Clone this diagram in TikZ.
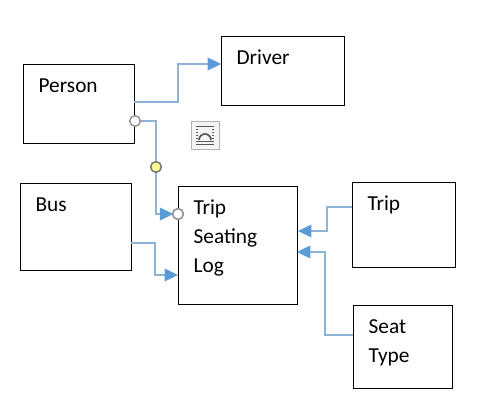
\documentclass[tikz,border=0pt]{standalone}
\usepackage{fontspec}
\setmainfont{Carlito}
\usetikzlibrary{arrows.meta, positioning}
\definecolor{linkblue}{HTML}{8DB4D8}
\definecolor{tipblue}{HTML}{5B9BD5}
\tikzset{
  entity/.style={draw, line width=0.8pt, inner sep=0pt, anchor=north west},
  entitytext/.style={font=\fontsize{16}{22}\selectfont, align=left, anchor=north west, inner sep=0pt},
  link/.style={-{Triangle[length=10pt,width=9.5pt,color=tipblue]}, line width=0.95pt, color=linkblue},
  handle/.style={circle, draw=gray!85, line width=1.1pt, fill=white, minimum size=8pt, inner sep=0pt},
  midhandle/.style={handle, fill=yellow!45!white, draw=gray!90!black}
}
\begin{document}
\begin{tikzpicture}[x=0.75pt, y=-0.75pt]
  \useasboundingbox (0,0) rectangle (490,407);
  % Person
  \node[entity, minimum width=83.25pt, minimum height=59.25pt] (person) at (23,64) {};
  \node[entitytext, below right=11pt and 11.5pt of person.north west] (personlabel) {Person};
  % Driver
  \node[entity, minimum width=92.25pt, minimum height=51.75pt] (driver) at (221,36) {};
  \node[entitytext, below right=10.5pt and 11.5pt of driver.north west] (driverlabel) {Driver};
  % Bus
  \node[entity, minimum width=83.25pt, minimum height=65.25pt] (bus) at (20,183) {};
  \node[entitytext, below right=11pt and 11.5pt of bus.north west] (buslabel) {Bus};
  % Trip Seating Log
  \node[entity, minimum width=89.25pt, minimum height=88.5pt] (log) at (178,186) {};
  \node[entitytext, below right=10pt and 11.5pt of log.north west] (loglabel) {Trip\\Seating\\Log};
  % Trip
  \node[entity, minimum width=77.25pt, minimum height=63.75pt] (trip) at (352,182) {};
  \node[entitytext, below right=10.5pt and 11.5pt of trip.north west] (triplabel) {Trip};
  % Seat Type
  \node[entity, minimum width=74.25pt, minimum height=62.25pt] (seat) at (353,305) {};
  \node[entitytext, below right=10.5pt and 11.5pt of seat.north west] (seatlabel) {Seat\\Type};

  % connector ends
  \coordinate (personout) at (134,102);
  \coordinate (busout) at (131,243);
  \coordinate (tripout) at (352,207);
  \coordinate (seatout) at (353,335);
  \coordinate (login) at (178,275);
  \coordinate (logtrip) at (298,231);
  \coordinate (logseat) at (297,252);
  \coordinate (driverin) at (221,64);

  \draw[link] (personout) -- (178,102) -- (178,64) -- (driverin);
  \draw[link] (busout) -- (155,243) -- (155,275) -- (login);
  \draw[link] (tripout) -- (327,207) -- (327,231) -- (logtrip);
  \draw[link] (seatout) -- (325,335) -- (325,252) -- (logseat);

  % selected connector
  \node[handle] (start) at (135,121) {};
  \node[handle] (end) at (178,214) {};
  \node[midhandle] (middle) at (156,167) {};
  \draw[link, shorten >=-1pt] (start) -- (156,121) -- (middle) -- (156,214) -- (end);
  \node[handle] at (end) {};

  % layout icon
  \node[draw=gray!60, fill=gray!8, minimum size=21pt, inner sep=0pt] (icon) at (205,135) {};
  \foreach \ypos in {-9,-6,-3,0,3,6,9}
    \draw[gray!70!black, line width=0.4pt] (196,135+\ypos) -- (214,135+\ypos);
  \fill[gray!8] (198,141) rectangle (212,129);
  \draw[gray!70!black, line width=1.3pt] (199,140) arc[start angle=180, end angle=360, radius=6];
\end{tikzpicture}
\end{document}
